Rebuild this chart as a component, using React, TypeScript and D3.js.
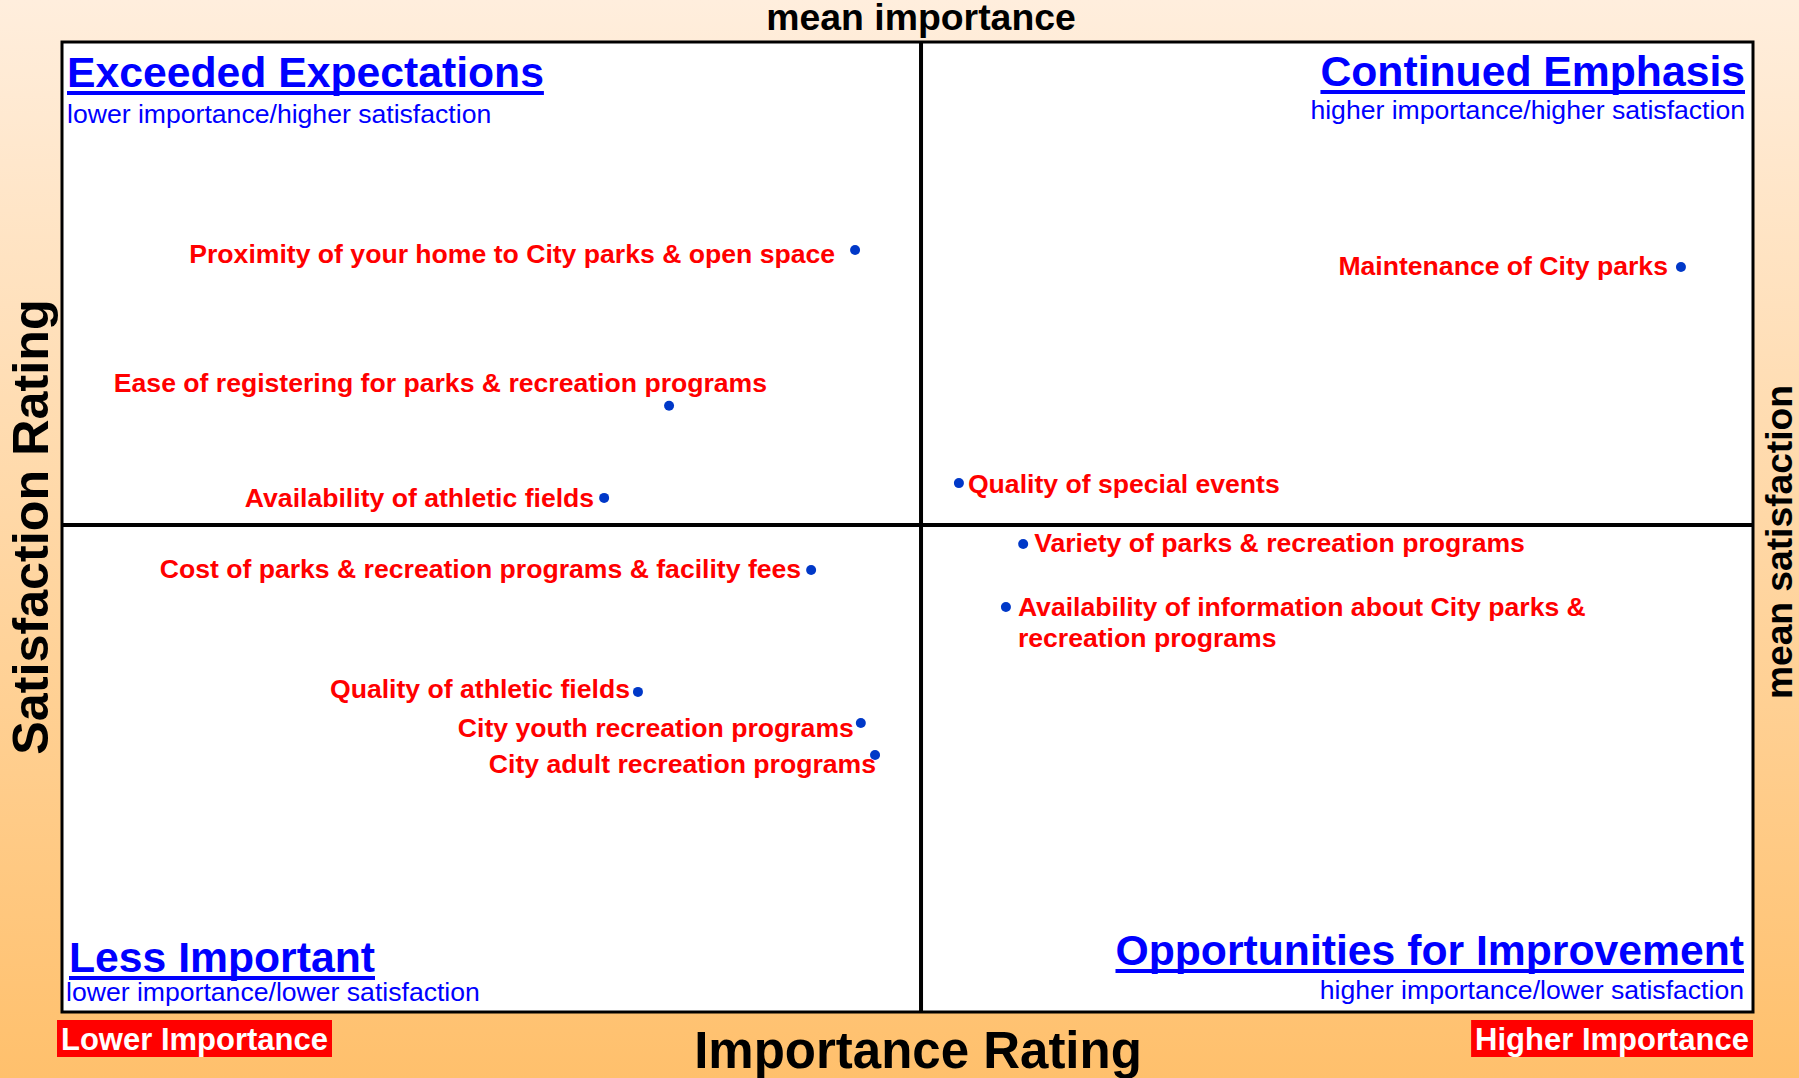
import React, { useEffect, useRef } from 'react';
import * as d3 from 'd3';

// importance / satisfaction matrix
const items = [
  'Proximity of your home to City parks & open space',
  'Ease of registering for parks & recreation programs',
  'Availability of athletic fields',
  'Maintenance of City parks',
  'Quality of special events',
  'Variety of parks & recreation programs',
  'Availability of information about City parks & |recreation programs',
  'Cost of parks & recreation programs & facility fees',
  'Quality of athletic fields',
  'City youth recreation programs',
  'City adult recreation programs',
];
const importance = [23.45, 17.95, 16.03, 47.87, 26.52, 28.42, 27.91, 22.15, 17.03, 23.62, 24.04];
const satisfaction = [81.42, 75.0, 71.2, 80.72, 71.81, 69.3, 66.7, 68.23, 63.2, 61.92, 60.6];
const meanImportance = 25.4;
const meanSatisfaction = 70.08;
const importanceDomain = [0, 50];
const satisfactionDomain = [50, 90];

// label placement relative to each dot: [dx, dy, anchor]
const labelLayout: [number, number, string][] = [
  [-20, 13, 'end'],
  [98, -14, 'end'],
  [-10, 9, 'end'],
  [-13, 8, 'end'],
  [9, 10, 'start'],
  [11, 8, 'start'],
  [12, 9, 'start'],
  [-10, 8, 'end'],
  [-8, 6, 'end'],
  [-7, 14, 'end'],
  [1, 18, 'end'],
];

const quadrants = [
  { title: 'Exceeded Expectations', sub: 'lower importance/higher satisfaction' },
  { title: 'Continued Emphasis', sub: 'higher importance/higher satisfaction' },
  { title: 'Less Important', sub: 'lower importance/lower satisfaction' },
  { title: 'Opportunities for Improvement', sub: 'higher importance/lower satisfaction' },
];

const W = 1799;
const H = 1078;
const margin = { top: 42, right: 46, bottom: 66, left: 62 };
const FONT = '"Liberation Sans", Arial, Helvetica, sans-serif';

const App = () => {
  const ref = useRef(null);

  useEffect(() => {
    const svg = d3.select(ref.current);
    svg.selectAll('*').remove();

    const x = d3.scaleLinear().domain(importanceDomain).range([margin.left, W - margin.right]);
    const y = d3.scaleLinear().domain(satisfactionDomain).range([H - margin.bottom, margin.top]);

    const defs = svg.append('defs');
    const grad = defs.append('linearGradient')
      .attr('id', 'bg').attr('x1', 0).attr('y1', 0).attr('x2', 0).attr('y2', 1);
    grad.append('stop').attr('offset', '0%').attr('stop-color', '#ffeedd');
    grad.append('stop').attr('offset', '100%').attr('stop-color', '#ffc06c');

    svg.append('rect').attr('width', W).attr('height', H).attr('fill', 'url(#bg)');

    const x0 = x(importanceDomain[0]);
    const x1 = x(importanceDomain[1]);
    const y0 = y(satisfactionDomain[1]);
    const y1 = y(satisfactionDomain[0]);
    const mx = x(meanImportance);
    const my = y(meanSatisfaction);

    svg.append('rect')
      .attr('x', x0).attr('y', y0)
      .attr('width', x1 - x0).attr('height', y1 - y0)
      .attr('fill', 'white').attr('stroke', 'black').attr('stroke-width', 3);

    svg.append('line').attr('x1', mx).attr('x2', mx).attr('y1', y0).attr('y2', y1)
      .attr('stroke', 'black').attr('stroke-width', 4);
    svg.append('line').attr('x1', x0).attr('x2', x1).attr('y1', my).attr('y2', my)
      .attr('stroke', 'black').attr('stroke-width', 4);

    // axis titles
    svg.append('text')
      .attr('x', mx).attr('y', 30)
      .attr('text-anchor', 'middle')
      .attr('font-family', FONT).attr('font-weight', 'bold').attr('font-size', 37.4)
      .text('mean importance');

    svg.append('text')
      .attr('transform', `translate(1792, ${my + 17}) rotate(-90)`)
      .attr('text-anchor', 'middle')
      .attr('font-family', FONT).attr('font-weight', 'bold').attr('font-size', 37.2)
      .text('mean satisfaction');

    svg.append('text')
      .attr('transform', `translate(48, ${my + 2}) rotate(-90)`)
      .attr('text-anchor', 'middle')
      .attr('font-family', FONT).attr('font-weight', 'bold').attr('font-size', 50.3)
      .text('Satisfaction Rating');

    svg.append('text')
      .attr('x', 918).attr('y', 1068)
      .attr('text-anchor', 'middle')
      .attr('font-family', FONT).attr('font-weight', 'bold').attr('font-size', 51)
      .text('Importance Rating');

    // red end boxes
    const tag = (label, bx, anchor) => {
      const g = svg.append('g');
      const t = g.append('text')
        .attr('x', bx).attr('y', 1050)
        .attr('text-anchor', anchor)
        .attr('font-family', FONT).attr('font-weight', 'bold').attr('font-size', 31)
        .attr('fill', 'white')
        .text(label);
      const bb = (t.node() as SVGTextElement).getBBox();
      g.insert('rect', 'text')
        .attr('x', bb.x - 4).attr('y', 1020)
        .attr('width', bb.width + 8).attr('height', 37)
        .attr('fill', '#ff0000');
    };
    tag('Lower Importance', 61, 'start');
    tag('Higher Importance', 1749, 'end');

    // quadrant titles
    const qpos = [
      { x: 67, ty: 87, sy: 123, anchor: 'start' },
      { x: 1745, ty: 86, sy: 119, anchor: 'end' },
      { x: 69, ty: 972, sy: 1001, anchor: 'start' },
      { x: 1744, ty: 965, sy: 999, anchor: 'end' },
    ];
    quadrants.forEach((q, i) => {
      const p = qpos[i];
      const t = svg.append('text')
        .attr('x', p.x).attr('y', p.ty)
        .attr('text-anchor', p.anchor)
        .attr('font-family', FONT).attr('font-weight', 'bold').attr('font-size', 42.7)
        .attr('fill', '#0000ff')
        .text(q.title);
      const len = (t.node() as SVGTextElement).getComputedTextLength();
      const lx = p.anchor === 'start' ? p.x : p.x - len;
      svg.append('rect')
        .attr('x', lx).attr('y', p.ty + 4)
        .attr('width', len).attr('height', 4)
        .attr('fill', '#0000ff');
      svg.append('text')
        .attr('x', i === 2 ? p.x - 3 : p.x).attr('y', p.sy)
        .attr('text-anchor', p.anchor)
        .attr('font-family', FONT).attr('font-size', 26.6)
        .attr('fill', '#0000ff')
        .text(q.sub);
    });

    // points
    svg.append('g')
      .selectAll('circle')
      .data(items)
      .join('circle')
      .attr('cx', (d, i) => x(importance[i]))
      .attr('cy', (d, i) => y(satisfaction[i]))
      .attr('r', 5)
      .attr('fill', '#0038c8');

    const labels = svg.append('g')
      .attr('font-family', FONT).attr('font-weight', 'bold').attr('font-size', 26.6)
      .attr('fill', '#ff0000')
      .selectAll('text')
      .data(items)
      .join('text')
      .attr('text-anchor', (d, i) => labelLayout[i][2])
      .attr('x', (d, i) => x(importance[i]) + labelLayout[i][0])
      .attr('y', (d, i) => y(satisfaction[i]) + labelLayout[i][1]);

    labels.each(function (d) {
      const el = d3.select(this);
      const lx = el.attr('x');
      d.split('|').forEach((line, k) => {
        el.append('tspan')
          .attr('x', lx)
          .attr('dy', k === 0 ? 0 : 31)
          .text(line.trim());
      });
    });
  });

  return (
    <svg
      ref={ref}
      width={W}
      height={H}
      viewBox={`0 0 ${W} ${H}`}
      style={{ position: 'absolute', left: 0, top: 0, display: 'block' }}
    />
  );
};

export default App;
